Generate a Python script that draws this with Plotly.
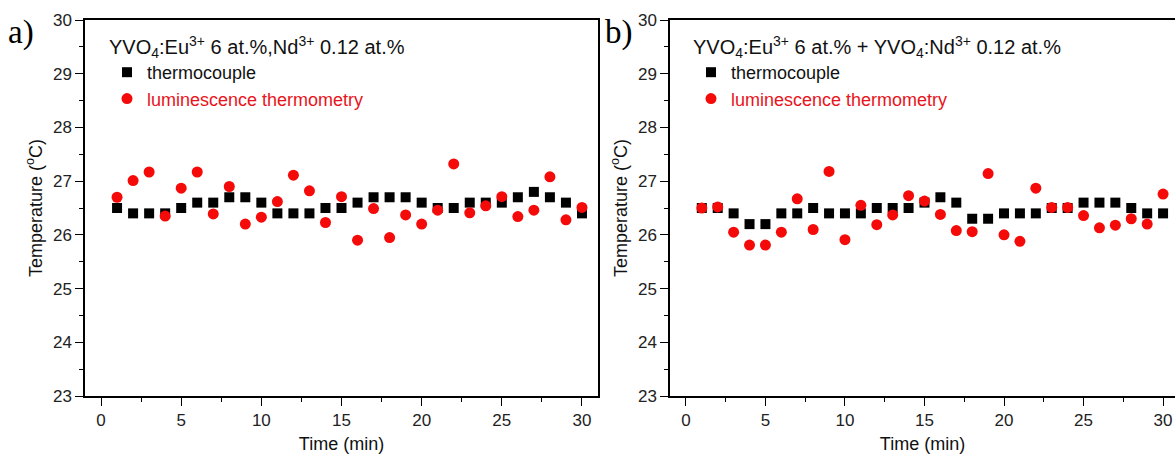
import plotly.graph_objects as go

time_min = list(range(1, 31))

a_thermocouple = [26.5, 26.4, 26.4, 26.4, 26.5, 26.6, 26.6, 26.7, 26.7, 26.6,
                  26.4, 26.4, 26.4, 26.5, 26.5, 26.6, 26.7, 26.7, 26.7, 26.6,
                  26.5, 26.5, 26.6, 26.6, 26.6, 26.7, 26.8, 26.7, 26.6, 26.4]
a_luminescence = [26.70, 27.01, 27.17, 26.35, 26.87, 27.17, 26.39, 26.90, 26.20, 26.33,
                  26.62, 27.11, 26.82, 26.23, 26.71, 25.90, 26.49, 25.95, 26.37, 26.20,
                  26.46, 27.32, 26.41, 26.54, 26.71, 26.34, 26.46, 27.08, 26.28, 26.51]

b_thermocouple = [26.5, 26.5, 26.4, 26.2, 26.2, 26.4, 26.4, 26.5, 26.4, 26.4,
                  26.4, 26.5, 26.5, 26.5, 26.6, 26.7, 26.6, 26.3, 26.3, 26.4,
                  26.4, 26.4, 26.5, 26.5, 26.6, 26.6, 26.6, 26.5, 26.4, 26.4]
b_luminescence = [26.50, 26.52, 26.05, 25.81, 25.81, 26.05, 26.67, 26.10, 27.18, 25.91,
                  26.55, 26.19, 26.37, 26.73, 26.63, 26.38, 26.08, 26.06, 27.14, 26.00,
                  25.88, 26.87, 26.51, 26.51, 26.36, 26.13, 26.18, 26.30, 26.20, 26.76]

title_a = "YVO<sub>4</sub>:Eu<sup>3+</sup> 6 at.%,Nd<sup>3+</sup> 0.12 at.%"
title_b = "YVO<sub>4</sub>:Eu<sup>3+</sup> 6 at.% + YVO<sub>4</sub>:Nd<sup>3+</sup> 0.12 at.%"
name_tc = "thermocouple"
name_lum = "<span style='color:#e8141b'>luminescence thermometry</span>"

FONT = "Liberation Sans, Arial, sans-serif"
BLACK = "#000000"
RED = "#f50a0a"

fig = go.Figure()

for (tc, lum, xa, ya, leg) in [
    (a_thermocouple, a_luminescence, "x", "y", "legend"),
    (b_thermocouple, b_luminescence, "x2", "y2", "legend2"),
]:
    fig.add_trace(go.Scatter(x=time_min, y=tc, mode="markers", name=name_tc,
                             marker=dict(symbol="square", size=10, color=BLACK),
                             xaxis=xa, yaxis=ya, legend=leg))
    fig.add_trace(go.Scatter(x=time_min, y=lum, mode="markers", name=name_lum,
                             marker=dict(symbol="circle", size=11, color=RED),
                             xaxis=xa, yaxis=ya, legend=leg))

W, H = 1175, 459
ax_common = dict(showline=True, linecolor="#000", linewidth=1.5, ticks="outside",
                 ticklen=8, tickwidth=1.3, tickcolor="#000", showgrid=False, zeroline=False,
                 tickfont=dict(family=FONT, size=17, color="#222"))

xa = dict(ax_common, range=[-1, 31], tickvals=[0, 5, 10, 15, 20, 25, 30],
          minor=dict(dtick=2.5, tick0=0, ticks="outside", ticklen=4, tickcolor="#000", tickwidth=1.3),
          title=dict(text="Time (min)", font=dict(family=FONT, size=18, color="#111"), standoff=8))
ya = dict(ax_common, range=[23, 30], dtick=1,
          minor=dict(dtick=0.5, ticks="outside", ticklen=4, tickcolor="#000", tickwidth=1.3),
          title=dict(text="Temperature (<sup>o</sup>C)", font=dict(family=FONT, size=18, color="#111"), standoff=6))

legend_common = dict(xanchor="left", yanchor="top", bgcolor="rgba(0,0,0,0)", tracegroupgap=0,
                     font=dict(family=FONT, size=18, color="#111"), itemwidth=30)

fig.update_layout(
    width=W, height=H,
    margin=dict(l=0, r=0, t=20, b=63),
    plot_bgcolor="white", paper_bgcolor="white",
    xaxis=dict(xa, domain=[85 / W, 598 / W], anchor="y", mirror=True),
    yaxis=dict(ya, domain=[0, 1], anchor="x", mirror=True),
    xaxis2=dict(xa, domain=[670 / W, 1.0], anchor="y2", range=[-1, 30.75], mirror=True),
    yaxis2=dict(ya, domain=[0, 1], anchor="x2", mirror=False),
    legend=dict(legend_common, x=107 / W, y=1 - 8 / 376,
                title=dict(text=title_a, font=dict(family=FONT, size=20, color="#111"), side="top")),
    legend2=dict(legend_common, x=691 / W, y=1 - 8 / 376,
                 title=dict(text=title_b, font=dict(family=FONT, size=20, color="#111"), side="top")),
    showlegend=True,
)

fig.add_annotation(text="a)", x=6 / W, y=1 + 8 / 376, xref="paper", yref="paper",
                   xanchor="left", yanchor="top", showarrow=False,
                   font=dict(family="Liberation Serif, Times New Roman, serif", size=33, color="#000"))
fig.add_annotation(text="b)", x=603 / W, y=1 + 8 / 376, xref="paper", yref="paper",
                   xanchor="left", yanchor="top", showarrow=False,
                   font=dict(family="Liberation Serif, Times New Roman, serif", size=33, color="#000"))

fig.write_html("out.html", config={"displayModeBar": False},
               post_script="document.body.style.margin='0';document.body.style.overflow='hidden';document.documentElement.style.overflow='hidden';")
